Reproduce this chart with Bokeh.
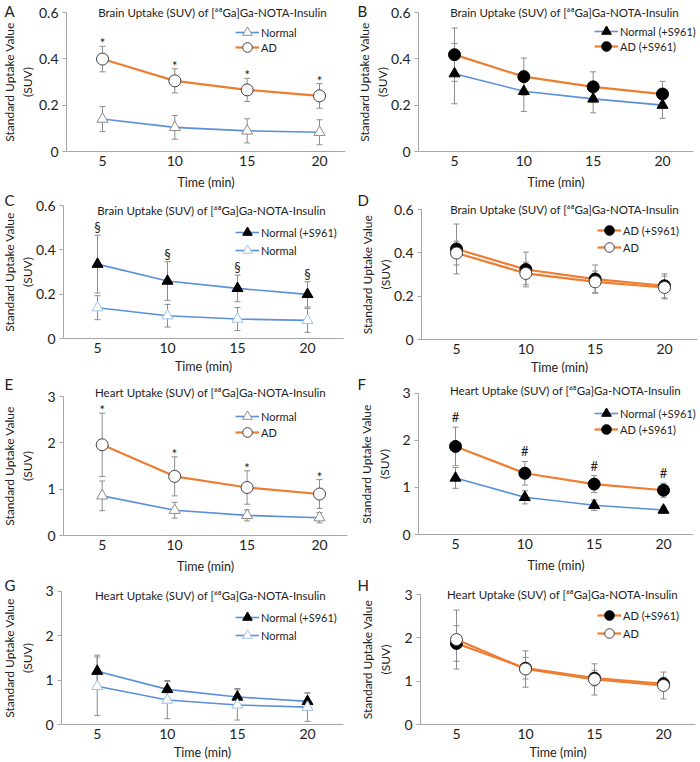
from bokeh.plotting import figure
from bokeh.layouts import gridplot
from bokeh.models import (ColumnDataSource, Whisker, TeeHead, Legend, LegendItem, Label,
                          FixedTicker, Range1d, NumeralTickFormatter)
from bokeh.core.properties import value
from bokeh.embed import file_html
from bokeh.resources import INLINE

# ---------------- data ----------------
TIME = [5, 10, 15, 20]
X_TICKS = [5, 10, 15, 20]
BRAIN_Y_TICKS = [0, 0.2, 0.4, 0.6]
HEART_Y_TICKS = [0, 1, 2, 3]

BRAIN_NORMAL = [0.140, 0.104, 0.089, 0.083]
BRAIN_NORMAL_ERR = [0.054, 0.051, 0.052, 0.054]
BRAIN_AD = [0.399, 0.305, 0.266, 0.240]
BRAIN_AD_ERR = [0.055, 0.052, 0.050, 0.053]
BRAIN_NORMAL_S961 = [0.336, 0.260, 0.227, 0.200]
BRAIN_NORMAL_S961_ERR = [0.130, 0.087, 0.060, 0.057]
BRAIN_AD_S961 = [0.418, 0.323, 0.279, 0.248]
BRAIN_AD_S961_ERR = [0.115, 0.080, 0.065, 0.055]

HEART_NORMAL = [0.86, 0.55, 0.44, 0.39]
HEART_NORMAL_ERR = [0.32, 0.17, 0.12, 0.11]
HEART_AD = [1.96, 1.28, 1.04, 0.90]
HEART_AD_ERR = [0.68, 0.42, 0.36, 0.31]
HEART_NORMAL_S961 = [1.20, 0.79, 0.62, 0.52]
HEART_NORMAL_S961_ERR = [0.22, 0.14, 0.11, 0.07]
HEART_AD_S961 = [1.87, 1.30, 1.07, 0.94]
HEART_AD_S961_ERR = [0.41, 0.25, 0.18, 0.15]

# panel G shows wider error bars
HEART_NORMAL_ERR_G = [0.66, 0.42, 0.34, 0.32]
HEART_NORMAL_S961_ERR_G = [0.36, 0.20, 0.19, 0.19]

DATA = {
    "Brain": {"Normal": (BRAIN_NORMAL, BRAIN_NORMAL_ERR),
              "AD": (BRAIN_AD, BRAIN_AD_ERR),
              "Normal (+S961)": (BRAIN_NORMAL_S961, BRAIN_NORMAL_S961_ERR),
              "AD (+S961)": (BRAIN_AD_S961, BRAIN_AD_S961_ERR)},
    "Heart": {"Normal": (HEART_NORMAL, HEART_NORMAL_ERR),
              "AD": (HEART_AD, HEART_AD_ERR),
              "Normal (+S961)": (HEART_NORMAL_S961, HEART_NORMAL_S961_ERR),
              "AD (+S961)": (HEART_AD_S961, HEART_AD_S961_ERR)},
}

# ---------------- styles / layout ----------------
FONT = "Lato"
BLUE = "#5B8FD9"
ORANGE = "#ED7D31"
ERR_GRAY = "#8C8C8C"
AXIS_GRAY = "#A6A6A6"
TXT = "#222222"

STYLE = {
    "Normal": dict(marker="triangle", line=BLUE, lw=1.6, fill="white", edge="#8C8C8C"),
    "AD": dict(marker="circle", line=ORANGE, lw=2.2, fill="white", edge="#404040"),
    "Normal (+S961)": dict(marker="triangle", line=BLUE, lw=1.6, fill="black", edge="black"),
    "AD (+S961)": dict(marker="circle", line=ORANGE, lw=2.2, fill="black", edge="black"),
}

COL_W = 350
ROW_H = [189, 184, 201, 188]
ROW_XLABEL_STANDOFF = [6, 3, 6, 3]
GH = 26  # legend glyph height

# geometry in figure pixels: y-axis x, px of x=5, px of x=20, x-axis end, px of y=0, px of y top
PANELS = [
    dict(letter="A", organ="Brain", series=["Normal", "AD"], sig=("AD", "*"),
         geo=(66, 102, 319, 345, 151, 12), title=(212, 12), leg=(247, 32), pitch=15, lx=4, ylso=1),
    dict(letter="B", organ="Brain", series=["Normal (+S961)", "AD (+S961)"], sig=None,
         geo=(68, 104, 312, 343, 151, 12), title=(214, 12), leg=(256, 31), pitch=15, lx=7, ylso=-2),
    dict(letter="C", organ="Brain", series=["Normal (+S961)", "Normal"], sig=("Normal (+S961)", "§"),
         geo=(63, 97, 307, 343, 149.3, 16), title=(211, 21), leg=(247, 43), pitch=18, lx=4, ylso=-2,
         normal_edge="#9DC3E6"),
    dict(letter="D", organ="Brain", series=["AD (+S961)", "AD"], sig=None,
         geo=(71, 106, 314, 347, 150, 20), title=(214, 20), leg=(259, 41), pitch=17, lx=7, ylso=-2),
    dict(letter="E", organ="Heart", series=["Normal", "AD"], sig=("AD", "*"),
         geo=(63, 101.7, 319, 347, 162.3, 23), title=(210, 19), leg=(247, 43), pitch=16, lx=4, ylso=9),
    dict(letter="F", organ="Heart", series=["Normal (+S961)", "AD (+S961)"], sig=("AD (+S961)", "#"),
         geo=(68, 105, 313, 343, 161, 19.7), title=(215, 17), leg=(256, 40), pitch=16, lx=7, ylso=7),
    dict(letter="G", organ="Heart", series=["Normal (+S961)", "Normal"], sig=None,
         geo=(61, 96.7, 307, 343, 150, 16.7), title=(210, 21), leg=(247, 43), pitch=18, lx=4, ylso=7,
         normal_edge="#9DC3E6",
         err={"Normal": HEART_NORMAL_ERR_G, "Normal (+S961)": HEART_NORMAL_S961_ERR_G}),
    dict(letter="H", organ="Heart", series=["AD (+S961)", "AD"], sig=None,
         geo=(70, 106, 313, 345, 150, 20), title=(212, 20), leg=(259, 41), pitch=18, lx=7, ylso=8),
]


def make_panel(i, cfg):
    row, col = divmod(i, 2)
    organ = cfg["organ"]
    ymax = 0.6 if organ == "Brain" else 3
    yticks = BRAIN_Y_TICKS if organ == "Brain" else HEART_Y_TICKS
    W, H = COL_W, ROW_H[row]
    ax_px, x5_px, x20_px, xend_px, y0_px, ytop_px = cfg["geo"]

    ppx = (x20_px - x5_px) / 15.0
    x_start = 5 - x5_px / ppx
    x_end = x_start + W / ppx
    ppy = (y0_px - ytop_px) / ymax
    y_start = -(H - y0_px) / ppy
    y_end = y0_px / ppy
    x_axis_lo = x_start + ax_px / ppx
    x_axis_hi = x_start + xend_px / ppx

    p = figure(width=W, height=H, output_backend="svg", toolbar_location=None, title=None,
               x_range=Range1d(x_start, x_end), y_range=Range1d(y_start, y_end),
               min_border=0)
    p.outline_line_color = None
    p.xgrid.visible = False
    p.ygrid.visible = False
    p.background_fill_color = "white"
    p.border_fill_color = "white"

    # axes (drawn at fixed data locations inside the frame)
    xa = p.xaxis[0]
    xa.fixed_location = 0
    xa.bounds = (x_axis_lo, x_axis_hi)
    xa.ticker = FixedTicker(ticks=X_TICKS)
    xa.major_tick_out = 0
    xa.major_tick_in = 0
    xa.minor_tick_out = 0
    xa.minor_tick_in = 0
    xa.axis_line_color = AXIS_GRAY
    xa.major_label_text_font = FONT
    xa.major_label_text_font_size = "14px"
    xa.major_label_text_color = TXT
    xa.major_label_standoff = 4
    xa.axis_label = "Time (min)"
    xa.axis_label_text_font = FONT
    xa.axis_label_text_font_size = "12.5px"
    xa.axis_label_text_font_style = "normal"
    xa.axis_label_text_color = TXT
    xa.axis_label_standoff = ROW_XLABEL_STANDOFF[row]

    ya = p.yaxis[0]
    ya.fixed_location = x_axis_lo
    ya.bounds = (0, ymax)
    ya.ticker = FixedTicker(ticks=yticks)
    ya.formatter = NumeralTickFormatter(format="0.[0]")
    ya.major_tick_out = 4
    ya.major_tick_in = 0
    ya.major_tick_line_color = AXIS_GRAY
    ya.minor_tick_out = 0
    ya.minor_tick_in = 0
    ya.axis_line_color = AXIS_GRAY
    ya.major_label_text_font = FONT
    ya.major_label_text_font_size = "14px"
    ya.major_label_text_color = TXT
    ya.major_label_standoff = 4
    ya.axis_label = "Standard Uptake Value\n(SUV)"
    ya.axis_label_text_font = FONT
    ya.axis_label_text_font_size = "12px"
    ya.axis_label_text_font_style = "normal"
    ya.axis_label_text_color = TXT
    ya.axis_label_standoff = cfg["ylso"]

    srcs = {}
    styles = {}
    for name in cfg["series"]:
        means, errs = DATA[organ][name]
        if "err" in cfg and name in cfg["err"]:
            errs = cfg["err"][name]
        st = dict(STYLE[name])
        if name == "Normal" and "normal_edge" in cfg:
            st["edge"] = cfg["normal_edge"]
        styles[name] = st
        src = ColumnDataSource(dict(
            x=TIME, y=means,
            lower=[m - e for m, e in zip(means, errs)],
            upper=[m + e for m, e in zip(means, errs)],
        ))
        srcs[name] = src
        p.add_layout(Whisker(base="x", lower="lower", upper="upper", source=src,
                             line_color=ERR_GRAY, line_width=1,
                             upper_head=TeeHead(size=6, line_color=ERR_GRAY, line_width=1),
                             lower_head=TeeHead(size=6, line_color=ERR_GRAY, line_width=1)))

    cx, cy = cfg["leg"]
    pitch = cfg["pitch"]
    for k, name in enumerate(cfg["series"]):
        st = styles[name]
        src = srcs[name]
        lr = p.line("x", "y", source=src, line_color=st["line"], line_width=st["lw"])
        sr = p.scatter("x", "y", source=src, marker=st["marker"],
                       size=12 if st["marker"] == "circle" else 11,
                       fill_color=st["fill"], line_color=st["edge"], line_width=1)
        # one legend box per entry, so that entries can sit closer than the glyph height
        ecy = cy + k * pitch
        leg = Legend(items=[LegendItem(label=value(name), renderers=[lr, sr])],
                     location=(cx - 12, H - ecy - GH / 2), orientation="vertical",
                     background_fill_alpha=0, border_line_color=None, padding=0, margin=0,
                     spacing=0, glyph_width=24, glyph_height=GH, label_height=12,
                     label_standoff=2, label_text_font=FONT, label_text_font_size="11px",
                     label_text_color=TXT)
        p.add_layout(leg)

    # significance markers
    if cfg["sig"] is not None:
        sname, sym = cfg["sig"]
        yoff = {"*": 5, "§": 0, "#": -2}[sym]
        p.text(x="x", y="upper", text=value(sym), source=srcs[sname],
               text_font=value(FONT), text_font_size="13px", text_color=TXT,
               text_align="center", text_baseline="bottom", y_offset=yoff)

    # title
    tx, ty = cfg["title"]
    title = f"{organ} Uptake (SUV) of [\u2076\u2078Ga]Ga-NOTA-Insulin"
    p.add_layout(Label(x=tx, y=H - ty, x_units="screen", y_units="screen",
                       text=title, text_font=FONT, text_font_size="11.5px", text_color=TXT,
                       text_align="center", text_baseline="middle"))
    # panel letter
    p.add_layout(Label(x=cfg["lx"], y=H - 1, x_units="screen", y_units="screen",
                       text=cfg["letter"], text_font=FONT, text_font_size="15px", text_color=TXT,
                       text_align="left", text_baseline="top"))
    return p


figs = [make_panel(i, cfg) for i, cfg in enumerate(PANELS)]
grid = gridplot([[figs[0], figs[1]], [figs[2], figs[3]], [figs[4], figs[5]], [figs[6], figs[7]]],
                toolbar_location=None)

open("out.html", "w").write(file_html(grid, INLINE))
